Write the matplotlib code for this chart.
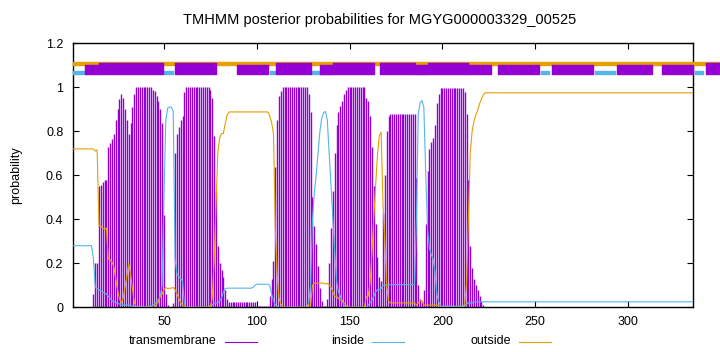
import matplotlib
matplotlib.use("Agg")
import matplotlib.pyplot as plt
from matplotlib.lines import Line2D
import numpy as np

plt.rcParams['font.family'] = ['Liberation Sans', 'DejaVu Sans']

title = "TMHMM posterior probabilities for MGYG000003329_00525"
seq_len = 335

# posterior probabilities per residue (1..335)
transmembrane = (
    [0.0] * 11
    + [0.06, 0.2, 0.2, 0.55, 0.555, 0.57, 0.58, 0.58, 0.73, 0.745,
       0.765, 0.79, 0.85, 0.9, 0.945, 0.97, 0.95, 0.9, 0.85, 0.79,
       0.84, 0.91, 0.97]
    + [1.0] * 9
    + [0.99, 0.985, 0.96, 0.94, 0.9, 0.84, 0.42, 0.06, 0.01, 0.003,
       0.003, 0.02, 0.7, 0.79, 0.82, 0.85, 0.87, 0.98]
    + [1.0] * 13
    + [0.99, 0.95, 0.78, 0.53, 0.28, 0.2, 0.17, 0.14, 0.08, 0.04]
    + [0.025] * 15
    + [0.006] * 7
    + [0.05, 0.13, 0.21, 0.64, 0.85, 0.96, 0.985]
    + [1.0] * 14
    + [0.97, 0.89, 0.5, 0.37, 0.29, 0.19, 0.09, 0.03, 0.005, 0.005,
       0.04, 0.2, 0.36, 0.53, 0.7, 0.83, 0.89, 0.915, 0.94, 0.97, 0.99]
    + [1.0] * 10
    + [0.95, 0.94, 0.87, 0.73, 0.55, 0.38, 0.23, 0.14, 0.12, 0.43,
       0.6, 0.8, 0.87]
    + [0.877] * 14
    + [0.59, 0.1, 0.04, 0.03, 0.08, 0.38, 0.62, 0.72, 0.75, 0.77,
       0.83, 0.93, 0.97]
    + [0.995] * 13
    + [0.98, 0.88, 0.58, 0.28, 0.18, 0.13, 0.1, 0.08, 0.05, 0.03, 0.01]
    + [0.0] * 113
)

inside = (
    [0.28] * 11
    + [0.22, 0.09, 0.085, 0.08, 0.075, 0.07, 0.065, 0.06, 0.05, 0.04,
       0.03, 0.025, 0.02, 0.02, 0.015, 0.01, 0.01, 0.01, 0.01, 0.01,
       0.01, 0.005, 0.005]
    + [0.002] * 9
    + [0.01, 0.015, 0.025, 0.035, 0.05, 0.1, 0.5, 0.85, 0.905, 0.91,
       0.91, 0.89, 0.22, 0.15, 0.14, 0.13, 0.12, 0.015]
    + [0.0] * 13
    + [0.005, 0.01, 0.015, 0.02, 0.02, 0.03, 0.04, 0.07, 0.085, 0.087]
    + [0.087] * 13 + [0.09, 0.1]
    + [0.105] * 7
    + [0.1, 0.06, 0.03, 0.01, 0.005, 0.0, 0.0]
    + [0.0] * 14
    + [0.02, 0.1, 0.4, 0.52, 0.6, 0.7, 0.8, 0.86, 0.885, 0.89,
       0.85, 0.7, 0.55, 0.4, 0.25, 0.12, 0.07, 0.05, 0.03, 0.01, 0.0]
    + [0.0] * 10
    + [0.0, 0.01, 0.02, 0.03, 0.05, 0.07, 0.08, 0.08, 0.085, 0.1,
       0.1, 0.1, 0.103]
    + [0.103] * 14
    + [0.4, 0.88, 0.93, 0.94, 0.91, 0.61, 0.35, 0.27, 0.24, 0.22,
       0.16, 0.06, 0.025]
    + [0.005] * 13
    + [0.005, 0.015, 0.02, 0.02, 0.02, 0.025, 0.025, 0.025, 0.025, 0.025, 0.025]
    + [0.025] * 113
)

outside = (
    [0.72] * 11
    + [0.72, 0.71, 0.715, 0.37, 0.37, 0.36, 0.355, 0.36, 0.22, 0.215,
       0.205, 0.185, 0.13, 0.08, 0.04, 0.02, 0.04, 0.09, 0.14, 0.2,
       0.15, 0.085, 0.025]
    + [0.0] * 9
    + [0.0, 0.0, 0.015, 0.025, 0.05, 0.06, 0.08, 0.09, 0.085, 0.087,
       0.087, 0.09, 0.08, 0.06, 0.04, 0.02, 0.01, 0.005]
    + [0.0] * 13
    + [0.005, 0.04, 0.205, 0.45, 0.7, 0.77, 0.79, 0.79, 0.835, 0.873]
    + [0.888] * 22
    + [0.87, 0.84, 0.79, 0.35, 0.145, 0.04, 0.015]
    + [0.0] * 14
    + [0.01, 0.01, 0.1, 0.11, 0.11, 0.11, 0.11, 0.11, 0.11, 0.105,
       0.11, 0.1, 0.09, 0.07, 0.05, 0.05, 0.04, 0.035, 0.03, 0.02, 0.01]
    + [0.0] * 10
    + [0.05, 0.05, 0.11, 0.24, 0.4, 0.55, 0.69, 0.78, 0.795, 0.47,
       0.3, 0.1, 0.027]
    + [0.02] * 14
    + [0.01, 0.02, 0.03, 0.03, 0.01, 0.01, 0.01, 0.01, 0.01, 0.01,
       0.01, 0.01, 0.005]
    + [0.0] * 13
    + [0.015, 0.105, 0.4, 0.7, 0.8, 0.845, 0.875, 0.895, 0.925, 0.945, 0.965]
    + [0.975] * 113
)

# predicted topology strip above the curves (residue ranges)
outside_strip = (1, 350)
inside_segs = [(1.2, 7.5), (50.2, 55.0), (107.1, 109.8), (129.1, 139.5),
               (186.2, 190.7), (253.2, 257.6), (282.3, 293.0), (336.1, 340.6)]
tm_high = [(15.2, 49.3), (56.0, 78.0), (110.4, 129.1), (140.9, 163.2),
           (166.4, 185.3), (192.4, 214.0), (342.0, 350.0)]
tm_low = [(7.5, 15.2), (89.2, 106.2), (134.1, 140.9), (185.3, 192.4),
          (214.0, 226.1), (230.2, 252.1), (259.2, 281.0), (293.9, 312.8),
          (318.2, 334.9)]

c_tm = '#9400d3'
c_in = '#56b4e9'
c_out = '#e69f00'

residues = np.arange(1, seq_len + 1)

fig = plt.figure(figsize=(7.2, 3.52), dpi=100)
ax = fig.add_axes([73 / 720, 1 - 307.3 / 352, 620 / 720, 264 / 352])

# topology strip
ax.broken_barh([(outside_strip[0], outside_strip[1] - outside_strip[0])],
               (1.100, 0.015), color=c_out, clip_on=False, zorder=3)
ax.broken_barh([(a, b - a) for a, b in inside_segs], (1.062, 0.012),
               color=c_in, clip_on=False, zorder=4)
ax.broken_barh([(a, b - a) for a, b in tm_low], (1.062, 0.038),
               color=c_tm, clip_on=False, zorder=5)
ax.broken_barh([(a, b - a) for a, b in tm_high], (1.062, 0.050),
               color=c_tm, clip_on=False, zorder=5)

ax.vlines(residues, 0, transmembrane, color=c_tm, lw=1.0, zorder=2)
ax.plot(residues, inside, color=c_in, lw=0.8, zorder=3)
ax.plot(residues, outside, color=c_out, lw=0.8, zorder=3)

ax.set_xlim(1, seq_len)
ax.set_ylim(0, 1.2)
ax.set_xticks([50, 100, 150, 200, 250, 300])
ax.set_yticks([0, 0.2, 0.4, 0.6, 0.8, 1.0, 1.2])
ax.set_yticklabels(['0', '0.2', '0.4', '0.6', '0.8', '1', '1.2'])
ax.tick_params(direction='in', length=4, width=0.8, top=True, right=True,
               labelsize=9, colors='black')
ax.tick_params(axis='x', pad=6)
ax.tick_params(axis='y', pad=7)
for s in ax.spines.values():
    s.set_linewidth(1.0)

ax.set_ylabel('probability', fontsize=9)
ax.yaxis.set_label_coords(-0.082, 0.5)
fig.text(380 / 720, 1 - 20 / 352, title, ha='center', va='center', fontsize=10.5)

# key along the bottom, text to the left of its sample line
labels = ['transmembrane', 'inside', 'outside']
colors = [c_tm, c_in, c_out]
for i, (lab, col) in enumerate(zip(labels, colors)):
    x_end = (257 + i * 147) / 720
    y = 1 - 341.5 / 352
    fig.text(x_end - 40 / 720, y, lab, ha='right', va='center', fontsize=9)
    fig.add_artist(Line2D([x_end - 32 / 720, x_end], [y, y], color=col, lw=0.8,
                          transform=fig.transFigure))

fig.savefig('out.png', dpi=100)
